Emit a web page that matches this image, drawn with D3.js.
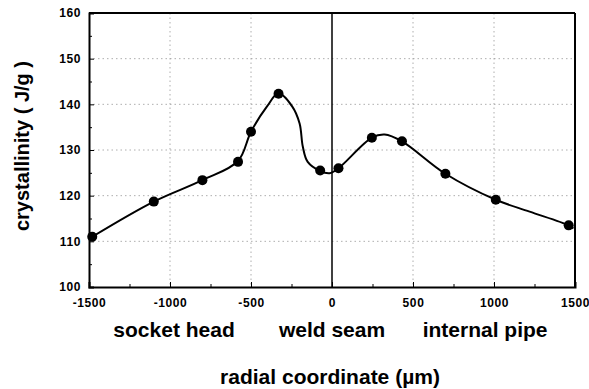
<!DOCTYPE html>
<html>
<head>
<meta charset="utf-8">
<script src="https://cdn.jsdelivr.net/npm/d3@7"></script>
<style>
  body { margin: 0; background: #fff; }
  svg text { font-family: "Liberation Sans", Arial, sans-serif; font-weight: bold; fill: #000; }
</style>
</head>
<body>
<div id="chart"></div>
<script>
// measured points (radial position in µm, crystallinity in J/g)
const pointX = [-1480, -1100, -800, -580, -500, -330, -73, 40, 246, 432, 700, 1011, 1461];
const pointY = [111, 118.7, 123.4, 127.4, 134, 142.3, 125.5, 126, 132.7, 131.9, 124.8, 119.1, 113.5];

// fitted curve
const curveX = [-1480, -1100, -800, -580, -500, -400, -330, -245, -200, -180, -150, -73, -15, 40, 246, 325, 432, 700, 1011, 1220, 1461, 1490];
const curveY = [111, 118.7, 123.4, 127.6, 134, 139.6, 142.4, 139.5, 135.8, 130.7, 127.4, 125.4, 124.9, 126, 132.7, 133.4, 131.9, 124.8, 119.1, 116.5, 113.5, 112.8];

const xTicks = [-1500, -1000, -500, 0, 500, 1000, 1500];
const yTicks = [100, 110, 120, 130, 140, 150, 160];
const regionLabels = ["socket head", "weld seam", "internal pipe"];
const regionCenters = [-975, 0, 945];

function drawChart() {
    const width = 589;
    const height = 389;
    const margin = {top: 13, right: 14, bottom: 102, left: 89};
    const innerW = width - margin.left - margin.right;
    const innerH = height - margin.top - margin.bottom;

    const svg = d3.select("#chart").append("svg")
        .attr("width", width)
        .attr("height", height);

    const g = svg.append("g")
        .attr("transform", `translate(${margin.left},${margin.top})`);

    const x = d3.scaleLinear().domain([-1500, 1500]).range([0, innerW]);
    const y = d3.scaleLinear().domain([100, 160]).range([innerH, 0]);

    // dotted grid
    g.selectAll(".hgrid")
        .data(yTicks.filter(d => d > 100 && d < 160))
        .enter().append("line")
        .attr("x1", 0).attr("x2", innerW)
        .attr("y1", d => y(d)).attr("y2", d => y(d))
        .attr("stroke", "#999")
        .attr("stroke-width", 0.8)
        .attr("stroke-dasharray", "1.5,3");

    g.selectAll(".vgrid")
        .data(xTicks.filter(d => d !== 0 && Math.abs(d) < 1500))
        .enter().append("line")
        .attr("y1", 0).attr("y2", innerH)
        .attr("x1", d => x(d)).attr("x2", d => x(d))
        .attr("stroke", "#999")
        .attr("stroke-width", 0.8)
        .attr("stroke-dasharray", "1.5,3");

    // axes with inward ticks
    const xAxis = g.append("g")
        .attr("transform", `translate(0,${innerH})`)
        .call(d3.axisBottom(x).tickValues(xTicks).tickSize(-5).tickFormat(d => String(d)));
    xAxis.selectAll("text")
        .attr("y", 20).attr("dy", 0)
        .style("font-size", "12px")
        .style("letter-spacing", "0.6px");

    g.append("g")
        .attr("transform", `translate(0,${innerH})`)
        .call(d3.axisBottom(x).tickValues(d3.range(-1250, 1500, 500)).tickSize(-3).tickFormat(""))
        .select(".domain").remove();

    const yAxis = g.append("g")
        .call(d3.axisLeft(y).tickValues(yTicks).tickSize(-5).tickPadding(8));
    yAxis.selectAll("text")
        .style("font-size", "12px")
        .style("letter-spacing", "0.6px");

    g.append("g")
        .call(d3.axisLeft(y).tickValues(d3.range(105, 160, 10)).tickSize(-3).tickFormat(""))
        .select(".domain").remove();

    g.selectAll(".domain").attr("stroke-width", 2);
    g.selectAll(".tick line").attr("stroke-width", 1);

    // frame
    g.append("line").attr("x1", 0).attr("x2", innerW).attr("y1", 0).attr("y2", 0)
        .attr("stroke", "#000").attr("stroke-width", 2);
    g.append("line").attr("x1", innerW).attr("x2", innerW).attr("y1", 0).attr("y2", innerH)
        .attr("stroke", "#000").attr("stroke-width", 2);

    // weld seam line
    g.append("line")
        .attr("x1", x(0)).attr("x2", x(0))
        .attr("y1", 0).attr("y2", innerH)
        .attr("stroke", "#000")
        .attr("stroke-width", 1.5);

    // fitted curve
    const line = d3.line()
        .x(d => x(d[0]))
        .y(d => y(d[1]))
        .curve(d3.curveCatmullRom.alpha(0.5));

    g.append("path")
        .datum(d3.zip(curveX, curveY))
        .attr("d", line)
        .attr("fill", "none")
        .attr("stroke", "#000")
        .attr("stroke-width", 2);

    g.selectAll(".pt")
        .data(d3.zip(pointX, pointY))
        .enter().append("circle")
        .attr("cx", d => x(d[0]))
        .attr("cy", d => y(d[1]))
        .attr("r", 5)
        .attr("fill", "#000");

    // region labels
    g.selectAll(".region")
        .data(regionLabels)
        .enter().append("text")
        .attr("x", (d, i) => x(regionCenters[i]))
        .attr("y", innerH + 50)
        .attr("text-anchor", "middle")
        .style("font-size", "21px")
        .text(d => d);

    svg.append("text")
        .attr("x", 330)
        .attr("y", 384)
        .attr("text-anchor", "middle")
        .style("font-size", "21px")
        .text("radial coordinate (\u00b5m)");

    svg.append("text")
        .attr("transform", `translate(29,146) rotate(-90)`)
        .attr("text-anchor", "middle")
        .style("font-size", "20px")
        .text("crystallinity ( J/g )");
}

drawChart();
</script>
</body>
</html>
